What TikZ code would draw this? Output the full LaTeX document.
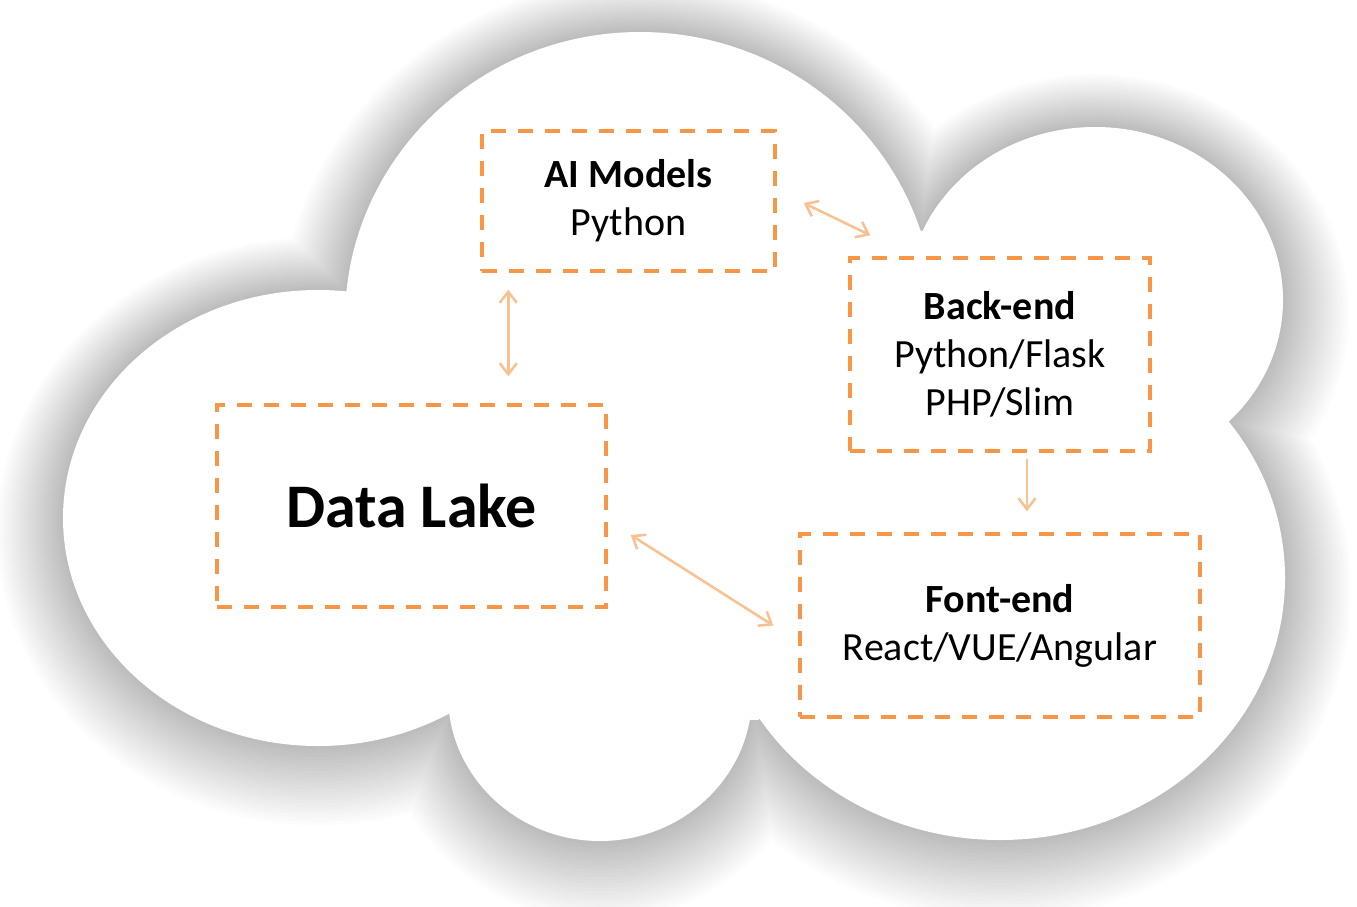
\documentclass[tikz,border=0pt]{standalone}
\usepackage{fontspec}
\setmainfont{Carlito}
\usetikzlibrary{arrows.meta,calc}
\definecolor{boxorange}{HTML}{F79646}
\definecolor{arroworange}{HTML}{FAC090}
\tikzset{
  box/.style={draw=boxorange, line width=3.5pt, dash pattern=on 15pt off 12pt,
    rectangle, inner sep=0pt, align=center, text=black,
    font=\fontsize{40}{48}\selectfont},
  barb/.tip={Straight Barb[length=11pt,width=17pt]},
  link/.style={draw=arroworange, line width=2.5pt, line cap=round},
}
\begin{document}
\begin{tikzpicture}[x=1pt,y=-1pt]
\useasboundingbox (0,0) rectangle (1357,907);
\fill[white] (0,0) rectangle (1357,907);
% soft shadow of the cloud
\foreach \d in {3,6,...,66} {
  \fill[black, opacity=0.012, shift={(0,\d/5)}]
    (640,320) ellipse [x radius=295+\d, y radius=288+\d]
    (318,518) ellipse [x radius=255+\d, y radius=228+\d]
    (600,695) ellipse [x radius=152+\d, y radius=146+\d]
    (1095,300) ellipse [x radius=188+\d, y radius=173+\d]
    (1000,578) ellipse [x radius=285+\d, y radius=262+\d];
}
% the cloud
\fill[white]
    (640,320) ellipse [x radius=295, y radius=288]
    (318,518) ellipse [x radius=255, y radius=228]
    (600,695) ellipse [x radius=152, y radius=146]
    (1095,300) ellipse [x radius=188, y radius=173]
    (1000,578) ellipse [x radius=285, y radius=262];
\fill[white] (355,288) -- (920,230) -- (1227,425) -- (758,720) -- (445,709) -- cycle;

% boxes
\node[box, minimum width=293pt, minimum height=140pt] (ai) at (628.5,201)
  {\textbf{AI Models}\\Python};
\node[box, minimum width=300pt, minimum height=193pt] (be) at (1000,354.5)
  {\textbf{Back-end}\\Python/Flask\\PHP/Slim};
\node[box, minimum width=389pt, minimum height=202pt,
  font=\fontsize{62}{74}\selectfont\bfseries] (dl) at (411.5,506) {Data Lake};
\node[box, minimum width=400pt, minimum height=183pt] (fe) at (1000,625.5)
  {\textbf{Font-end}\\React/VUE/Angular};

% connectors
\draw[link, barb-barb] ($(ai.east)+(27,2)$) -- ($(be.north west)+(22,-21)$);
\draw[link, barb-barb] ($(ai.south west)+(28,17)$) -- ($(dl.north west)+(293,-27)$);
\draw[link, -barb] ($(be.south)+(27,7)$) -- ($(fe.north)+(27,-21)$);
\draw[link, barb-barb] ($(dl.east)+(23,29)$) -- ($(fe.west)+(-25,0)$);
\end{tikzpicture}
\end{document}
